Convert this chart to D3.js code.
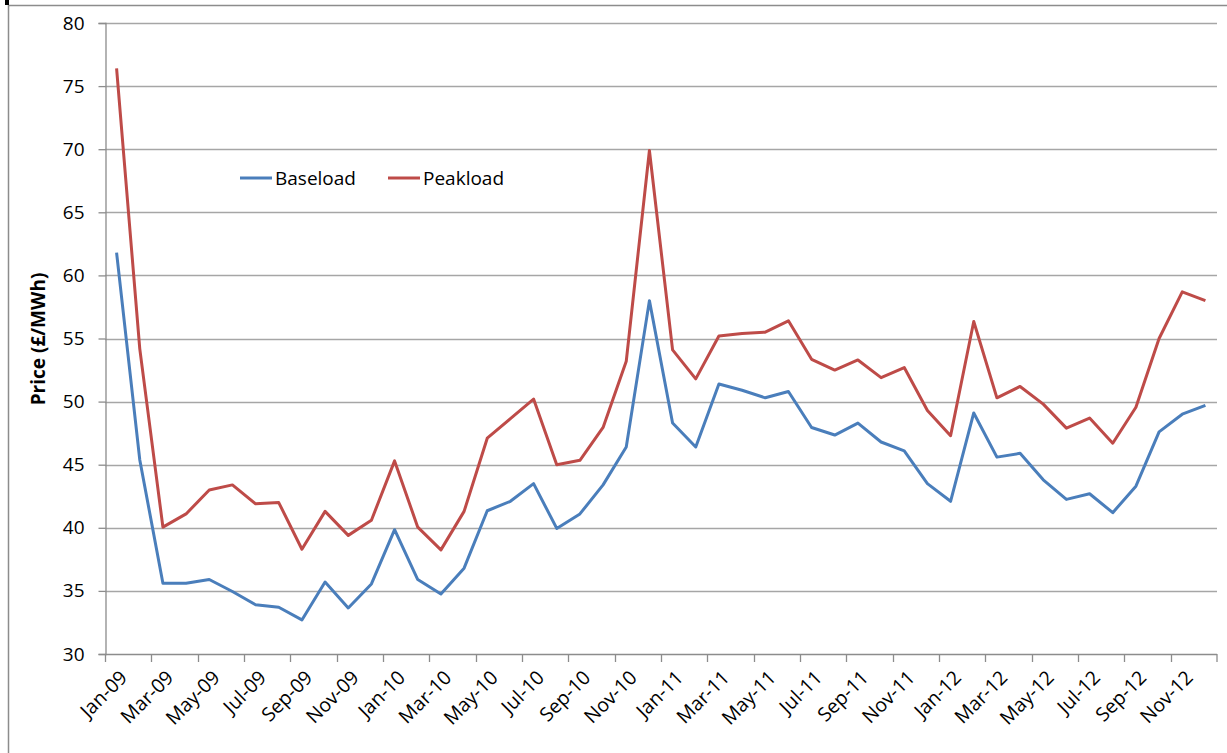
<!doctype html>
<html>
<head>
<meta charset="utf-8">
<title>Baseload and Peakload prices</title>
<style>
  body{ margin:0; background:#fff; }
  text{ font-family:"Open Sans", Calibri, sans-serif; fill:#000; }
  .grid line{ stroke:#a6a6a6; stroke-width:1.3; }
  .line{ fill:none; stroke-width:3; stroke-linejoin:round; }
</style>
</head>
<body>
<div id="vis"></div>
<script src="https://cdn.jsdelivr.net/npm/d3@7"></script>
<script>

var width = 1227,
  height = 753;

// monthly categories Jan-09 .. Dec-12
var months = [
  'Jan-09','Feb-09','Mar-09','Apr-09','May-09','Jun-09','Jul-09','Aug-09','Sep-09','Oct-09','Nov-09','Dec-09',
  'Jan-10','Feb-10','Mar-10','Apr-10','May-10','Jun-10','Jul-10','Aug-10','Sep-10','Oct-10','Nov-10','Dec-10',
  'Jan-11','Feb-11','Mar-11','Apr-11','May-11','Jun-11','Jul-11','Aug-11','Sep-11','Oct-11','Nov-11','Dec-11',
  'Jan-12','Feb-12','Mar-12','Apr-12','May-12','Jun-12','Jul-12','Aug-12','Sep-12','Oct-12','Nov-12','Dec-12'
];

var baseload = [
  61.8,45.4,35.6,35.6,35.9,34.95,33.9,33.7,32.7,35.7,33.65,35.55,
  39.85,35.9,34.75,36.8,41.35,42.1,43.5,39.95,41.1,43.4,46.4,58.0,
  48.3,46.4,51.4,50.9,50.3,50.8,47.95,47.35,48.3,46.8,46.1,43.5,
  42.1,49.1,45.6,45.9,43.8,42.25,42.7,41.2,43.3,47.6,49.0,49.7
];

var peakload = [
  76.4,54.2,40.05,41.1,43.0,43.4,41.9,42.0,38.3,41.3,39.4,40.6,
  45.3,40.05,38.25,41.3,47.1,48.65,50.2,45.0,45.35,47.95,53.2,69.9,
  54.1,51.8,55.2,55.4,55.5,56.4,53.35,52.5,53.3,51.9,52.7,49.3,
  47.3,56.35,50.3,51.2,49.8,47.9,48.7,46.7,49.55,55.0,58.7,58.0
];

var yTicks = [30,35,40,45,50,55,60,65,70,75,80];
var seriesNames = ['Baseload','Peakload'];
var seriesColors = ['#4a7ebb','#be4b48'];

var svg = d3.select('#vis').append('svg')
  .attr('width', width)
  .attr('height', height);

// outer chart frame (cut off at the top)
svg.append('line')
  .attr('x1', 8.5).attr('x2', 8.5).attr('y1', 5).attr('y2', height)
  .style('stroke', '#8c8c8c').style('stroke-width', 1.5);
svg.append('line')
  .attr('x1', 8).attr('x2', width).attr('y1', 5.5).attr('y2', 5.5)
  .style('stroke', '#8c8c8c').style('stroke-width', 1.5);
svg.append('rect')
  .attr('x', 5).attr('y', 0).attr('width', 4).attr('height', 5)
  .style('fill', '#000');

var x = d3.scaleBand()
  .domain(months)
  .range([105, 1217])
  .padding(0);

var y = d3.scaleLinear()
  .domain([30, 80])
  .range([654, 23]);

function cx(d){ return x(d) + x.bandwidth() / 2; }

// gridlines
var grid = svg.append('g').attr('class', 'grid');
grid.selectAll('line')
  .data(yTicks.filter(function(t){ return t > 30; }))
  .enter().append('line')
  .attr('x1', 105).attr('x2', 1217)
  .attr('y1', function(d){ return Math.round(y(d)) + 0.5; })
  .attr('y2', function(d){ return Math.round(y(d)) + 0.5; });

// y axis
var yAxis = svg.append('g')
  .attr('transform', 'translate(105.5,0)')
  .call(d3.axisLeft(y).tickValues(yTicks).tickSize(7).tickPadding(14));
yAxis.select('.domain').style('stroke', '#8c8c8c').style('stroke-width', 1.3);
yAxis.selectAll('.tick line').style('stroke', '#8c8c8c').style('stroke-width', 1.3);
yAxis.selectAll('.tick text')
  .style('font-size', '19px')
  .style('font-family', '"Open Sans", sans-serif')
  .style('fill', '#000');

// x axis baseline and ticks every two months
var xAxisG = svg.append('g');
xAxisG.append('line')
  .attr('x1', 105).attr('x2', 1217)
  .attr('y1', 654.5).attr('y2', 654.5)
  .style('stroke', '#8c8c8c').style('stroke-width', 1.3);

var tickMonths = months.filter(function(d, i){ return i % 2 === 0; });
xAxisG.selectAll('.xtick')
  .data(tickMonths.concat(['end']))
  .enter().append('line')
  .attr('class', 'xtick')
  .attr('x1', function(d){ return d === 'end' ? 1217 : Math.round(x(d)) + 0.5; })
  .attr('x2', function(d){ return d === 'end' ? 1217 : Math.round(x(d)) + 0.5; })
  .attr('y1', 654).attr('y2', 662)
  .style('stroke', '#8c8c8c').style('stroke-width', 1.3);

xAxisG.selectAll('.xlabel')
  .data(tickMonths)
  .enter().append('text')
  .attr('class', 'xlabel')
  .attr('text-anchor', 'end')
  .attr('transform', function(d){
    return 'translate(' + (cx(d) + 7) + ',674) rotate(-45)';
  })
  .attr('dy', '0.35em')
  .style('font-size', '19.5px')
  .text(function(d){ return d; });

// y axis title
svg.append('text')
  .attr('transform', 'translate(38,339) rotate(-90)')
  .attr('text-anchor', 'middle')
  .attr('dy', '0.35em')
  .style('font-size', '19px')
  .style('font-weight', 'bold')
  .text('Price (£/MWh)');

// lines
var line = d3.line()
  .x(function(d, i){ return cx(months[i]); })
  .y(function(d){ return y(d); });

[baseload, peakload].forEach(function(s, si){
  svg.append('path')
    .datum(s)
    .attr('class', 'line')
    .style('stroke', seriesColors[si])
    .attr('d', line);
});

// legend
var legend = svg.append('g').attr('transform', 'translate(240,178)');
var legendX = [0, 148];
seriesNames.forEach(function(n, i){
  legend.append('line')
    .attr('x1', legendX[i]).attr('x2', legendX[i] + 32)
    .attr('y1', 0).attr('y2', 0)
    .style('stroke', seriesColors[i]).style('stroke-width', 3);
  legend.append('text')
    .attr('x', legendX[i] + 35)
    .attr('dy', '0.35em')
    .style('font-size', '19px')
    .text(n);
});

</script>
</body>
</html>
